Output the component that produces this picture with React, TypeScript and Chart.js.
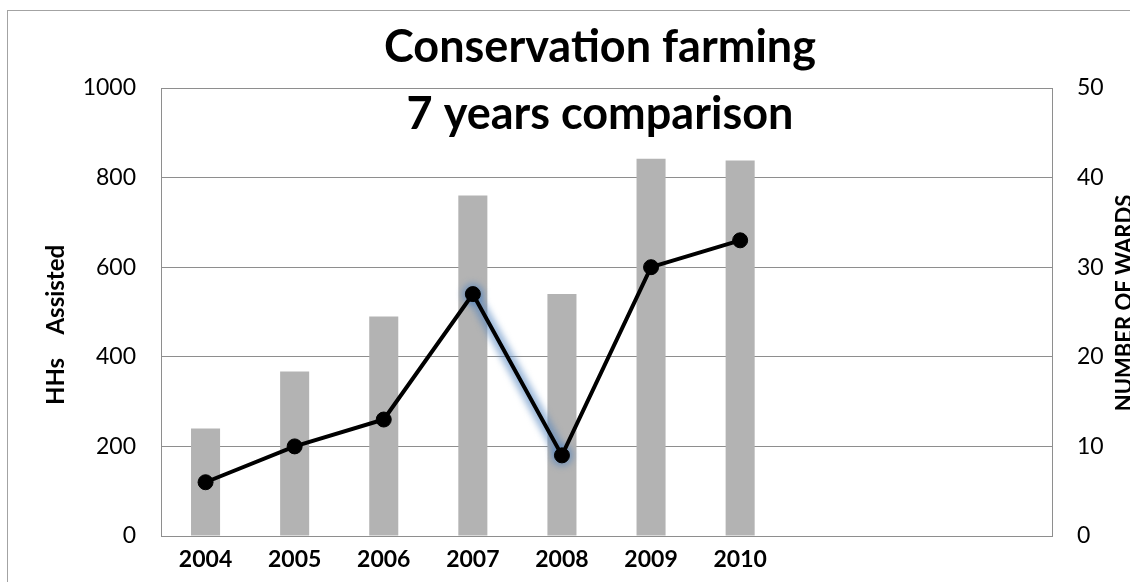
import React, { useEffect, useRef } from 'react';
import { Chart, registerables } from 'chart.js';

Chart.register(...registerables);

// ---- data ----
const categories = ['2004', '2005', '2006', '2007', '2008', '2009', '2010', '', '', ''];
const householdsAssisted = [240, 367, 490, 760, 540, 842, 838];
const numberOfWards = [6, 10, 13, 27, 9, 30, 33];
const highlightedPoints = [3, 4];
const titleLines = ['Conservation farming', '7 years comparison'];
const leftAxisTitle = 'HHs    Assisted';
const rightAxisTitle = 'NUMBER OF WARDS';
const leftAxisMax = 1000;
const leftAxisStep = 200;
const rightAxisMax = 50;
const rightAxisStep = 10;

const FONT = 'Lato';
const GRID = '#8e8e8e';
const BAR = '#b3b3b3';

const CANVAS_W = 1200;
const CANVAS_H = 582;

const axisTitlePlugin = {
  id: 'axisTitlesCustom',
  afterDraw(chart: any) {
    const { ctx, chartArea } = chart;
    const midY = (chartArea.top + chartArea.bottom) / 2;
    ctx.save();
    ctx.fillStyle = '#000';
    ctx.textAlign = 'center';
    ctx.textBaseline = 'middle';
    ctx.save();
    ctx.font = `bold 24px ${FONT}`;
    ctx.translate(chartArea.left - 105, midY + 13);
    ctx.rotate(-Math.PI / 2);
    ctx.fillText(leftAxisTitle, 0, 0);
    ctx.restore();
    ctx.save();
    ctx.font = `bold 22px ${FONT}`;
    ctx.translate(chartArea.right + 73, midY - 9);
    ctx.rotate(-Math.PI / 2);
    ctx.fillText(rightAxisTitle, 0, 0);
    ctx.restore();
    ctx.restore();
  },
};

const glowPlugin = {
  id: 'glowBlur',
  beforeDatasetDraw(chart: any, args: any) {
    if (args.index === 1) {
      chart.ctx.save();
      chart.ctx.filter = 'blur(3px)';
    }
  },
  afterDatasetDraw(chart: any, args: any) {
    if (args.index === 1) {
      chart.ctx.restore();
    }
  },
};

export default function App() {
  const canvasRef = useRef<HTMLCanvasElement | null>(null);

  useEffect(() => {
    if (!canvasRef.current) return;
    const glowData = numberOfWards.map((v, i) => (highlightedPoints.includes(i) ? v : null));
    const chart = new Chart(canvasRef.current, {
      type: 'bar',
      data: {
        labels: categories,
        datasets: [
          {
            type: 'line',
            label: 'Number of wards',
            data: numberOfWards,
            yAxisID: 'y1',
            borderColor: '#000',
            borderWidth: 4,
            pointRadius: 7.5,
            pointBackgroundColor: '#000',
            pointBorderColor: '#000',
            pointBorderWidth: 1,
            tension: 0,
            order: 0,
          } as any,
          {
            type: 'line',
            label: 'glow',
            data: glowData,
            yAxisID: 'y1',
            borderColor: 'rgba(79,129,189,0.55)',
            borderWidth: 13,
            pointRadius: 11,
            pointBackgroundColor: 'rgba(79,129,189,0.55)',
            pointBorderWidth: 0,
            spanGaps: false,
            tension: 0,
            order: 1,
          } as any,
          {
            type: 'bar',
            label: 'HHs Assisted',
            data: householdsAssisted,
            yAxisID: 'y',
            backgroundColor: BAR,
            borderWidth: 0,
            categoryPercentage: 1,
            barPercentage: 0.326,
            order: 2,
          } as any,
        ],
      },
      options: {
        animation: false,
        responsive: false,
        devicePixelRatio: 1,
        layout: { padding: 0 },
        plugins: {
          legend: { display: false },
          tooltip: { enabled: false },
          title: {
            display: true,
            text: titleLines,
            color: '#000',
            font: { family: FONT, weight: 'bold', size: 45, lineHeight: '67px' } as any,
            padding: { top: 14, bottom: -60 },
          },
        },
        scales: {
          x: {
            grid: { display: false, drawTicks: false },
            border: { display: true, color: GRID, width: 1 },
            ticks: {
              color: '#000',
              font: { family: FONT, weight: 'bold', size: 23 },
              padding: 10,
              maxRotation: 0,
              autoSkip: false,
            },
            afterFit(scale: any) {
              scale.height = 46;
            },
          },
          y: {
            position: 'left',
            min: 0,
            max: leftAxisMax,
            grid: { color: GRID, drawTicks: false, lineWidth: 1 },
            border: { display: true, color: GRID, width: 1 },
            ticks: {
              stepSize: leftAxisStep,
              color: '#000',
              font: { family: FONT, size: 23 },
              padding: 25,
              callback: (v: any) => String(v),
            },
            afterFit(scale: any) {
              scale.width = 161;
            },
          },
          y1: {
            position: 'right',
            min: 0,
            max: rightAxisMax,
            grid: { display: false, drawTicks: false },
            border: { display: true, color: GRID, width: 1 },
            ticks: {
              stepSize: rightAxisStep,
              color: '#000',
              font: { family: FONT, size: 23 },
              padding: 25,
              callback: (v: any) => String(v),
            },
            afterFit(scale: any) {
              scale.width = CANVAS_W - 1052;
            },
          },
        },
      },
      plugins: [axisTitlePlugin, glowPlugin],
    } as any);
    return () => chart.destroy();
  }, []);

  return (
    <div
      style={{
        position: 'fixed',
        left: 0,
        top: 0,
        width: 1130,
        height: 582,
        overflow: 'hidden',
        background: '#fff',
      }}
    >
      <div
        style={{
          position: 'absolute',
          left: 7,
          top: 10,
          width: 1300,
          height: 800,
          border: '1px solid #a3a3a3',
          boxSizing: 'border-box',
        }}
      />
      <canvas
        ref={canvasRef}
        width={CANVAS_W}
        height={CANVAS_H}
        style={{ position: 'absolute', left: 0, top: 0 }}
      />
    </div>
  );
}
